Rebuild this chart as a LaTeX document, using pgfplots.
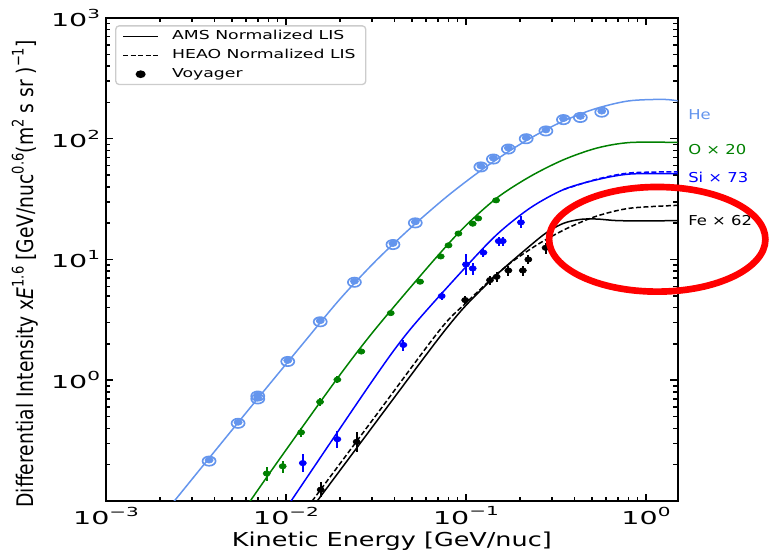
\documentclass[border=0pt]{standalone}
\usepackage{fontspec}
\setmainfont{DejaVu Sans}
\newfontfamily\tickfont[FakeStretch=1.6]{DejaVu Sans}
\newfontfamily\legfont[FakeStretch=1.4]{DejaVu Sans}
\newfontfamily\ylabfont[FakeStretch=0.82]{DejaVu Sans}
\newfontfamily\xlabfont[FakeStretch=1.33]{DejaVu Sans}
\newfontfamily\sidefont[FakeStretch=1.2]{DejaVu Sans}
\usepackage{pgfplots}
\pgfplotsset{compat=1.18}
\usepackage{pgfplotstable}

\definecolor{heblue}{RGB}{100,149,237}
\definecolor{ogreen}{RGB}{0,128,0}
\definecolor{siblue}{RGB}{0,0,255}

\newcommand\sps[1]{\raisebox{0.45em}{\scalebox{0.7}{#1}}}
\newcommand\tp[1]{10\sps{#1}}

% LIS curves (AMS normalized, solid)
\pgfplotstableread{
E I
0.001995 0.0713
0.003162 0.1663
0.005012 0.3869
0.007943 0.8954
0.012589 2.058
0.019953 4.70
0.031623 9.77
0.050119 18.68
0.079433 33.77
0.125893 56.95
0.199526 89.84
0.316228 131.1
0.501187 173.6
0.794328 205.3
1.258925 211.6
1.584893 203.2
}\heLIS
\pgfplotstableread{
E I
0.005012 0.0607
0.006397 0.1023
0.009268 0.2254
0.019143 1.019
0.031261 2.636
0.063241 9.099
0.096828 18.28
0.148594 32.36
0.227510 48.75
0.348337 66.99
0.534564 83.75
0.818465 93.11
1.548817 93.11
}\oLIS
\pgfplotstableread{
E I
0.009333 0.0745
0.010765 0.1019
0.030620 1.019
0.048978 2.636
0.096828 8.260
0.148594 16.11
0.227510 26.73
0.348337 37.93
0.534564 45.81
0.818465 51.05
1.548817 51.40
}\siLIS
\pgfplotstableread{
E I
0.348337 37.93
0.534564 46.24
0.818465 52.12
1.548817 53.21
}\siHEAO
\pgfplotstableread{
E I
0.012589 0.0713
0.015453 0.1074
0.031623 0.4498
0.056234 1.422
0.076560 2.600
0.1 4.169
0.148594 7.516
0.227510 13.03
0.281838 16.79
0.348337 19.95
0.431519 21.48
0.534564 21.63
0.690240 20.99
1.013911 20.89
1.548817 20.99
}\feLIS
\pgfplotstableread{
E I
0.011749 0.0706
0.014488 0.1074
0.031623 0.5117
0.071945 2.636
0.1 4.365
0.141254 7.079
0.176198 9.333
0.227510 12.16
0.281838 14.79
0.379315 18.62
0.534564 22.91
0.818465 26.61
1.548817 28.12
}\feHEAO

% Voyager data
\pgfplotstableread{
E I
0.00374 0.214
0.00542 0.44
0.00697 0.74
0.00697 0.70
0.01023 1.43
0.0155 3.05
0.0240 6.48
0.0393 13.3
0.0523 20.1
0.121 58.4
0.142 67.9
0.172 82.2
0.216 100
0.278 116
0.348 144
0.432 150
0.568 166
}\heVoy
\pgfplotstableread{
E I ep em
0.00782 0.169 0.022 0.023
0.00959 0.194 0.021 0.022
0.01214 0.370 0.030 0.028
0.01546 0.662 0.05 0.05
0.0193 1.01 0.07 0.07
0.0262 1.73 0.08 0.08
0.0382 3.60 0.15 0.15
0.0556 6.55 0.3 0.3
0.0724 10.6 0.5 0.5
0.080 13.1 0.6 0.6
0.0908 16.4 0.7 0.7
0.109 19.8 0.9 0.9
0.117 21.9 1.0 1.0
0.147 30.9 1.5 1.5
}\oVoy
\pgfplotstableread{
E I ep em
0.01240 0.206 0.038 0.032
0.0193 0.325 0.056 0.052
0.0449 1.96 0.2 0.2
0.0733 4.98 0.4 0.4
0.100 9.1 2.0 1.7
0.109 8.43 1.0 1.0
0.125 11.4 1.0 1.0
0.152 14.2 1.2 1.2
0.160 14.2 1.2 1.2
0.202 20.3 2.5 2.2
}\siVoy
\pgfplotstableread{
E I ep em
0.0156 0.124 0.021 0.017
0.0247 0.309 0.063 0.053
0.099 4.61 0.35 0.35
0.136 6.75 0.6 0.6
0.148 7.19 0.7 0.7
0.172 8.11 0.8 0.8
0.207 8.11 0.8 0.8
0.222 10.0 0.9 0.9
0.277 12.5 1.3 1.3
}\feVoy

\begin{document}
\begin{tikzpicture}
\useasboundingbox (-63.6pt,-33pt) rectangle (399.6pt,300.6pt);
\begin{axis}[
  at={(0,0)}, anchor=south west,
  scale only axis, width=343pt, height=289.8pt,
  xmode=log, ymode=log,
  xmin=1e-3, xmax=1.5, ymin=0.1, ymax=1000,
  xtick={0.001,0.01,0.1,1},
  xticklabels={\tp{−3},\tp{−2},\tp{−1},\tp{0}},
  ytick={1,10,100,1000},
  yticklabels={\tp{0},\tp{1},\tp{2},\tp{3}},
  minor xtick={0.002,0.003,0.004,0.005,0.006,0.007,0.008,0.009,
    0.02,0.03,0.04,0.05,0.06,0.07,0.08,0.09,
    0.2,0.3,0.4,0.5,0.6,0.7,0.8,0.9},
  minor ytick={0.2,0.3,0.4,0.5,0.6,0.7,0.8,0.9,
    2,3,4,5,6,7,8,9,20,30,40,50,60,70,80,90,
    200,300,400,500,600,700,800,900},
  tick align=inside,
  major tick length=4.5pt, minor tick length=2.5pt,
  every tick/.style={black, line width=0.9pt},
  axis line style={line width=1.2pt},
  tick label style={font=\tickfont\fontsize{10.7}{12}\selectfont},
  xlabel={Kinetic Energy [GeV/nuc]},
  xlabel style={font=\xlabfont\fontsize{11.5}{13}\selectfont,
    at={(axis description cs:0.5,-0.0952)}, anchor=base},
  ylabel={Differential Intensity x\textit{E}\sps{1.6} [GeV/nuc\sps{0.6}(m\sps{2} s sr )\sps{−1}]},
  ylabel style={font=\ylabfont\fontsize{13.7}{16}\selectfont,
    at={(axis description cs:-0.126,0.470)}, anchor=base},
  clip mode=individual,
  legend cell align=left,
  legend style={at={(0.016,0.985)}, anchor=north west,
    draw=black!20, line width=0.8pt, rounded corners=2pt, fill=white,
    font=\legfont\fontsize{7.4}{8.9}\selectfont,
    inner xsep=4pt, inner ysep=1.5pt, row sep=1.9pt,
    nodes={inner ysep=1.2pt, inner xsep=2pt},
    /tikz/every odd column/.append style={column sep=6pt}},
]
\addlegendimage{legend image code/.code={\draw[black,line width=0.8pt] (0pt,0pt) -- (21pt,0pt);}}
\addlegendentry{AMS Normalized LIS}
\addlegendimage{legend image code/.code={\draw[black,line width=0.8pt,dash pattern=on 3pt off 1.5pt] (0pt,0pt) -- (21pt,0pt);}}
\addlegendentry{HEAO Normalized LIS}
\addlegendimage{legend image code/.code={\fill[black] (10.5pt,0pt) ellipse [x radius=2.6pt, y radius=1.9pt];}}
\addlegendentry{Voyager}

% curves
\addplot[forget plot, heblue, line width=0.9pt, smooth] table[x=E,y=I] \heLIS;
\addplot[forget plot, ogreen, line width=0.9pt, smooth] table[x=E,y=I] \oLIS;
\addplot[forget plot, siblue, line width=0.9pt, smooth] table[x=E,y=I] \siLIS;
\addplot[forget plot, siblue, line width=0.9pt, dash pattern=on 3pt off 1.5pt, smooth] table[x=E,y=I] \siHEAO;
\addplot[forget plot, black, line width=0.9pt, smooth] table[x=E,y=I] \feLIS;
\addplot[forget plot, black, line width=0.9pt, dash pattern=on 3pt off 1.5pt, smooth] table[x=E,y=I] \feHEAO;

% Voyager points
\addplot[forget plot, only marks, mark=o, heblue, mark size=2.8pt,
  mark options={xscale=1.4, line width=1pt}] table[x=E,y=I] \heVoy;
\addplot[forget plot, only marks, mark=*, heblue, mark size=1.8pt,
  mark options={xscale=1.35, yshift=0.6pt}] table[x=E,y=I] \heVoy;
\addplot[forget plot, only marks, mark=*, ogreen, mark size=1.6pt,
  mark options={xscale=1.33},
  error bars/.cd, y dir=both, y explicit, error mark=none,
  error bar style={line width=1.3pt}]
  table[x=E,y=I,y error plus=ep,y error minus=em] \oVoy;
\addplot[forget plot, only marks, mark=*, siblue, mark size=1.6pt,
  mark options={xscale=1.33},
  error bars/.cd, y dir=both, y explicit, error mark=none,
  error bar style={line width=1.3pt}]
  table[x=E,y=I,y error plus=ep,y error minus=em] \siVoy;
\addplot[forget plot, only marks, mark=*, black, mark size=1.6pt,
  mark options={xscale=1.33},
  error bars/.cd, y dir=both, y explicit, error mark=none,
  error bar style={line width=1.3pt}]
  table[x=E,y=I,y error plus=ep,y error minus=em] \feVoy;

% labels at the right
\node[anchor=base west, inner sep=0, text=heblue, font=\sidefont\fontsize{8.2}{10}\selectfont] at (rel axis cs:1.018,0.790) {He};
\node[anchor=base west, inner sep=0, text=ogreen, font=\sidefont\fontsize{8.2}{10}\selectfont] at (rel axis cs:1.018,0.718) {O × 20};
\node[anchor=base west, inner sep=0, text=siblue, font=\sidefont\fontsize{8.2}{10}\selectfont] at (rel axis cs:1.018,0.660) {Si × 73};
\node[anchor=base west, inner sep=0, text=black, font=\sidefont\fontsize{8.2}{10}\selectfont] at (rel axis cs:1.018,0.571) {Fe × 62};

% red annotation ellipse
\draw[red, line width=4pt] (rel axis cs:0.9643,0.5418) ellipse [x radius=64.9pt, y radius=31.4pt];
\end{axis}
\end{tikzpicture}
\end{document}
